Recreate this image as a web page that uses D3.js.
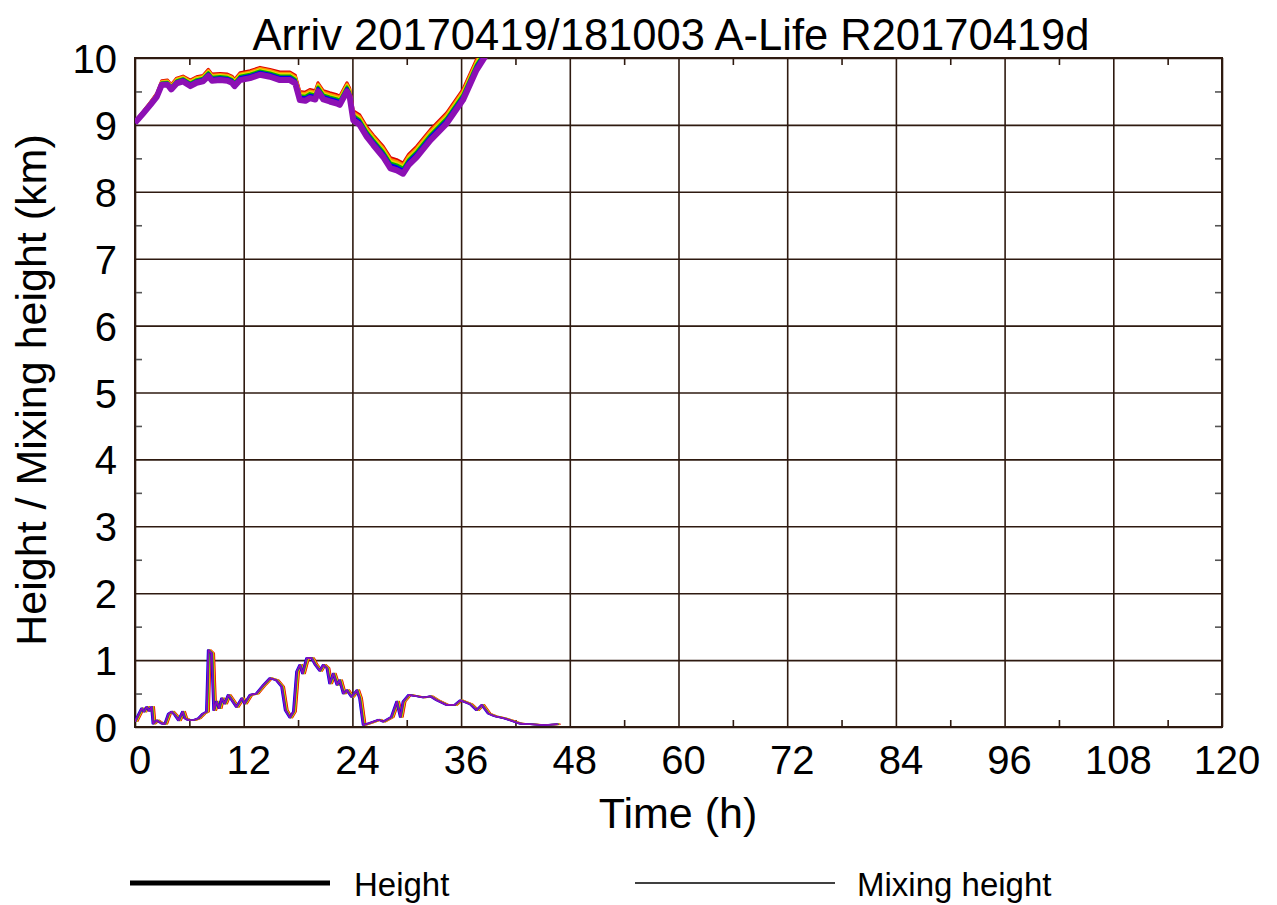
<!DOCTYPE html>
<html><head><meta charset="utf-8">
<script src="https://cdn.jsdelivr.net/npm/d3@7"></script>
<style>
html,body{margin:0;padding:0;background:#fff;}
svg{display:block;font-family:"Liberation Sans",Arial,sans-serif;}
</style></head>
<body><svg id="c" width="1277" height="905"></svg>
<script>
const titleText = "Arriv 20170419/181003 A-Life R20170419d";
const xLabel = "Time (h)";
const yLabel = "Height / Mixing height (km)";
const xTicks = [0,12,24,36,48,60,72,84,96,108,120];
const yTicks = [0,1,2,3,4,5,6,7,8,9,10];
const xMinor = [6,18,30,42,54,66,78,90,102,114];
const yMinor = [0.5,1.5,2.5,3.5,4.5,5.5,6.5,7.5,8.5,9.5];

// Height (trajectory) - base member (purple)
const heightT = [0,0.9,1.7,2.4,2.95,3.6,4.0,4.6,5.3,6.1,6.8,7.5,8.1,8.5,9.4,10.2,10.7,11.0,11.6,12.7,13.8,14.9,16.0,17.1,17.7,18.2,18.8,19.3,19.9,20.2,20.8,21.5,22.3,22.6,23.0,23.4,23.7,24.1,24.8,25.6,26.3,27.4,28.2,28.9,29.6,30.2,31.1,32.6,34.4,36.2,37.7,39.5];
const heightKm = [9.03,9.17,9.30,9.42,9.60,9.60,9.53,9.62,9.65,9.58,9.63,9.65,9.73,9.66,9.67,9.66,9.63,9.58,9.67,9.70,9.75,9.72,9.67,9.67,9.62,9.37,9.36,9.40,9.38,9.50,9.38,9.35,9.32,9.30,9.40,9.50,9.42,9.07,9.00,8.82,8.70,8.52,8.35,8.32,8.27,8.40,8.52,8.77,9.02,9.37,9.82,10.2];
// spread between lowest (purple) and highest (red) member, km
const heightSpread = [0.02,0.03,0.04,0.05,0.06,0.07,0.07,0.08,0.08,0.09,0.09,0.09,0.10,0.10,0.10,0.10,0.10,0.10,0.11,0.11,0.11,0.11,0.12,0.12,0.12,0.13,0.13,0.13,0.13,0.13,0.13,0.13,0.13,0.13,0.13,0.13,0.13,0.14,0.15,0.15,0.15,0.16,0.16,0.16,0.16,0.16,0.16,0.16,0.16,0.16,0.16,0.16];

// Mixing height - base member
const mixT = [0,0.37,0.74,1.0,1.3,1.58,1.84,2.0,2.4,2.95,3.3,3.7,4.05,4.4,4.8,5.26,5.5,5.9,6.4,7.0,7.5,7.9,8.1,8.47,8.7,9.0,9.3,9.57,9.9,10.3,10.7,11.2,11.8,12.1,12.7,13.4,14.2,14.9,15.6,16.2,16.6,17.1,17.5,17.85,18.2,18.5,18.95,19.5,19.9,20.4,20.8,21.2,21.5,21.9,22.3,22.6,23.0,23.4,23.9,24.5,24.8,25.2,25.9,26.9,27.4,28.3,28.9,29.3,29.6,30.2,31.1,31.8,32.6,33.3,34.4,35.3,35.9,37.0,37.7,38.3,39.0,39.7,40.7,41.4,42.5,43.6,45.1,46.7];
const mixKm = [0.08,0.18,0.28,0.23,0.30,0.24,0.30,0.05,0.10,0.05,0.05,0.20,0.23,0.18,0.10,0.23,0.13,0.10,0.10,0.13,0.20,0.23,1.15,1.10,0.25,0.38,0.28,0.43,0.35,0.48,0.40,0.30,0.43,0.35,0.48,0.50,0.63,0.73,0.70,0.60,0.25,0.14,0.23,0.83,0.93,0.80,1.03,1.03,0.93,0.84,0.93,0.88,0.65,0.80,0.63,0.70,0.50,0.55,0.45,0.55,0.43,0.03,0.06,0.11,0.08,0.15,0.38,0.15,0.38,0.48,0.46,0.44,0.46,0.40,0.33,0.33,0.40,0.34,0.25,0.33,0.20,0.16,0.13,0.10,0.05,0.04,0.03,0.04];

// ensemble members (drawn in this order; purple last)
const memberColors = ["#e00000","#ff8c00","#e6d800","#00b400","#0000f0","#5a00c8","#8c10b4"];
const memberFrac   = [1.0, 0.84, 0.68, 0.52, 0.34, 0.16, 0.0];   // fraction of height spread
const memberShiftH = [0.28, 0.2, 0.14, 0.08, -0.08, 0.04, 0.0]; // time shift (h) of mixing height
const legendItems = ["Height","Mixing height"];

const svg = d3.select("#c");
const M = {l:135, r:1222, t:58, b:727};
const x = d3.scaleLinear().domain([0,120]).range([M.l, M.r]);
const y = d3.scaleLinear().domain([0,10]).range([M.b, M.t]);
const gridCol = "#2e1a10";

svg.append("defs").append("clipPath").attr("id","clip")
  .append("rect").attr("x",M.l).attr("y",M.t).attr("width",M.r-M.l).attr("height",M.b-M.t);

// grid via axes
const gx = svg.append("g").attr("transform",`translate(0,${M.b})`)
  .call(d3.axisBottom(x).tickValues(xTicks).tickSize(-(M.b-M.t)).tickFormat(""));
const gy = svg.append("g").attr("transform",`translate(${M.l},0)`)
  .call(d3.axisLeft(y).tickValues(yTicks).tickSize(-(M.r-M.l)).tickFormat(""));
[gx,gy].forEach(g=>{ g.select(".domain").remove(); g.selectAll("line").attr("stroke",gridCol).attr("stroke-width",1.6); });

// minor ticks, inside on all sides
const mt = 7;
svg.append("g").attr("transform",`translate(0,${M.b})`).call(d3.axisBottom(x).tickValues(xMinor).tickSize(-mt).tickFormat(""))
  .call(g=>{g.select(".domain").remove(); g.selectAll("line").attr("stroke",gridCol).attr("stroke-width",1.6);});
svg.append("g").attr("transform",`translate(0,${M.t})`).call(d3.axisTop(x).tickValues(xMinor).tickSize(-mt).tickFormat(""))
  .call(g=>{g.select(".domain").remove(); g.selectAll("line").attr("stroke",gridCol).attr("stroke-width",1.6);});
svg.append("g").attr("transform",`translate(${M.l},0)`).call(d3.axisLeft(y).tickValues(yMinor).tickSize(-mt).tickFormat(""))
  .call(g=>{g.select(".domain").remove(); g.selectAll("line").attr("stroke","#555").attr("stroke-width",1.6);});
svg.append("g").attr("transform",`translate(${M.r},0)`).call(d3.axisRight(y).tickValues(yMinor).tickSize(-mt).tickFormat(""))
  .call(g=>{g.select(".domain").remove(); g.selectAll("line").attr("stroke","#555").attr("stroke-width",1.6);});

// frame
svg.append("rect").attr("x",M.l).attr("y",M.t).attr("width",M.r-M.l).attr("height",M.b-M.t)
  .attr("fill","none").attr("stroke",gridCol).attr("stroke-width",2);

const plot = svg.append("g").attr("clip-path","url(#clip)");
const hLine = d3.line().x(d=>x(d[0])).y(d=>y(d[1]));

memberColors.forEach((c,i)=>{
  const pts = heightT.map((t,j)=>[t, heightKm[j] + memberFrac[i]*heightSpread[j]]);
  plot.append("path").attr("d",hLine(pts)).attr("fill","none").attr("stroke",c)
    .attr("stroke-width", i===memberColors.length-1 ? 6 : 3).attr("stroke-linejoin","round");
});
memberColors.forEach((c,i)=>{
  const pts = mixT.map((t,j)=>[t + memberShiftH[i], mixKm[j]]);
  plot.append("path").attr("d",hLine(pts)).attr("fill","none").attr("stroke",c)
    .attr("stroke-width",1.6).attr("stroke-linejoin","round");
});

// tick labels
const fs = 40;
svg.append("g").selectAll("text").data(xTicks).join("text")
  .attr("x",d=>x(d)+5).attr("y",774).attr("text-anchor","middle").attr("font-size",fs).text(d=>d);
svg.append("g").selectAll("text").data(yTicks).join("text")
  .attr("x",117).attr("y",d=>y(d)+15).attr("text-anchor","end").attr("font-size",fs).text(d=>d);

svg.append("text").attr("x",671).attr("y",50).attr("text-anchor","middle").attr("font-size",43.5).text(titleText);
svg.append("text").attr("x",678).attr("y",828).attr("text-anchor","middle").attr("font-size",43).text(xLabel);
svg.append("text").attr("transform","translate(46,390) rotate(-90)").attr("text-anchor","middle").attr("font-size",43).text(yLabel);

// legend
const lg = svg.append("g");
lg.append("line").attr("x1",130).attr("x2",330).attr("y1",883).attr("y2",883).attr("stroke","#000").attr("stroke-width",5);
lg.append("text").attr("x",354).attr("y",896).attr("font-size",33).text(legendItems[0]);
lg.append("line").attr("x1",635).attr("x2",835).attr("y1",883).attr("y2",883).attr("stroke","#000").attr("stroke-width",1.3);
lg.append("text").attr("x",857).attr("y",896).attr("font-size",33).text(legendItems[1]);
</script></body></html>
